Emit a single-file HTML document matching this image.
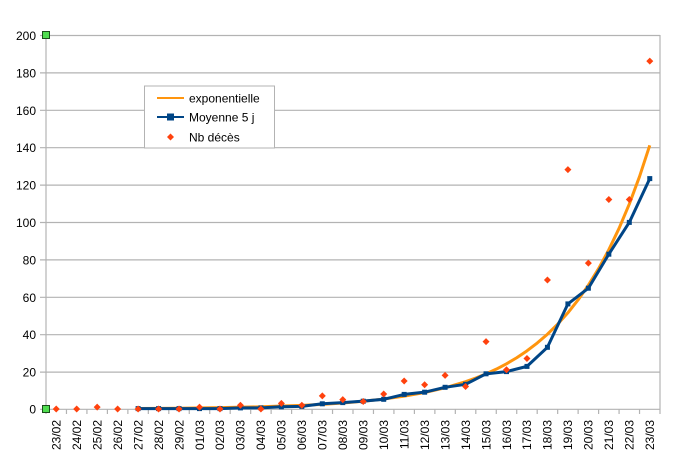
<!DOCTYPE html>
<html><head><meta charset="utf-8"><style>
html,body{margin:0;padding:0;background:#fff;}
svg{display:block;font-family:"Liberation Sans",Arial,sans-serif;}
</style></head><body>
<svg width="679" height="470" viewBox="0 0 679 470" xmlns="http://www.w3.org/2000/svg">
<rect width="679" height="470" fill="#fff"/>
<!-- gridlines -->
<g stroke="#b3b3b3" stroke-width="1.2">
<line x1="40" y1="35.5" x2="660" y2="35.5"/>
<line x1="40" y1="72.9" x2="660" y2="72.9"/>
<line x1="40" y1="110.3" x2="660" y2="110.3"/>
<line x1="40" y1="147.7" x2="660" y2="147.7"/>
<line x1="40" y1="185.1" x2="660" y2="185.1"/>
<line x1="40" y1="222.5" x2="660" y2="222.5"/>
<line x1="40" y1="259.9" x2="660" y2="259.9"/>
<line x1="40" y1="297.3" x2="660" y2="297.3"/>
<line x1="40" y1="334.7" x2="660" y2="334.7"/>
<line x1="40" y1="372.1" x2="660" y2="372.1"/>
<line x1="40" y1="409.3" x2="660" y2="409.3"/>
<line x1="46" y1="35" x2="46" y2="414"/>
<line x1="660" y1="35" x2="660" y2="414"/>
</g>
<!-- x ticks -->
<g stroke="#b3b3b3" stroke-width="1.2">
<line x1="66.47" y1="409" x2="66.47" y2="414"/><line x1="86.93" y1="409" x2="86.93" y2="414"/><line x1="107.4" y1="409" x2="107.4" y2="414"/><line x1="127.87" y1="409" x2="127.87" y2="414"/><line x1="148.33" y1="409" x2="148.33" y2="414"/><line x1="168.8" y1="409" x2="168.8" y2="414"/><line x1="189.27" y1="409" x2="189.27" y2="414"/><line x1="209.73" y1="409" x2="209.73" y2="414"/><line x1="230.2" y1="409" x2="230.2" y2="414"/><line x1="250.67" y1="409" x2="250.67" y2="414"/><line x1="271.13" y1="409" x2="271.13" y2="414"/><line x1="291.6" y1="409" x2="291.6" y2="414"/><line x1="312.07" y1="409" x2="312.07" y2="414"/><line x1="332.53" y1="409" x2="332.53" y2="414"/><line x1="353" y1="409" x2="353" y2="414"/><line x1="373.47" y1="409" x2="373.47" y2="414"/><line x1="393.93" y1="409" x2="393.93" y2="414"/><line x1="414.4" y1="409" x2="414.4" y2="414"/><line x1="434.87" y1="409" x2="434.87" y2="414"/><line x1="455.33" y1="409" x2="455.33" y2="414"/><line x1="475.8" y1="409" x2="475.8" y2="414"/><line x1="496.27" y1="409" x2="496.27" y2="414"/><line x1="516.73" y1="409" x2="516.73" y2="414"/><line x1="537.2" y1="409" x2="537.2" y2="414"/><line x1="557.67" y1="409" x2="557.67" y2="414"/><line x1="578.13" y1="409" x2="578.13" y2="414"/><line x1="598.6" y1="409" x2="598.6" y2="414"/><line x1="619.07" y1="409" x2="619.07" y2="414"/><line x1="639.53" y1="409" x2="639.53" y2="414"/>
</g>
<!-- y labels -->
<g font-size="12" fill="#000" text-anchor="end">
<text x="36" y="40">200</text>
<text x="36" y="77.4">180</text>
<text x="36" y="114.8">160</text>
<text x="36" y="152.2">140</text>
<text x="36" y="189.6">120</text>
<text x="36" y="227">100</text>
<text x="36" y="264.4">80</text>
<text x="36" y="301.8">60</text>
<text x="36" y="339.2">40</text>
<text x="36" y="376.6">20</text>
<text x="36" y="413.5">0</text>
</g>
<!-- x labels -->
<g font-size="12" fill="#000" text-anchor="end">
<text transform="translate(60.5,420) rotate(-90)">23/02</text>
<text transform="translate(81,420) rotate(-90)">24/02</text>
<text transform="translate(101.4,420) rotate(-90)">25/02</text>
<text transform="translate(121.9,420) rotate(-90)">26/02</text>
<text transform="translate(142.4,420) rotate(-90)">27/02</text>
<text transform="translate(162.8,420) rotate(-90)">28/02</text>
<text transform="translate(183.3,420) rotate(-90)">29/02</text>
<text transform="translate(203.8,420) rotate(-90)">01/03</text>
<text transform="translate(224.2,420) rotate(-90)">02/03</text>
<text transform="translate(244.7,420) rotate(-90)">03/03</text>
<text transform="translate(265.2,420) rotate(-90)">04/03</text>
<text transform="translate(285.6,420) rotate(-90)">05/03</text>
<text transform="translate(306.1,420) rotate(-90)">06/03</text>
<text transform="translate(326.6,420) rotate(-90)">07/03</text>
<text transform="translate(347,420) rotate(-90)">08/03</text>
<text transform="translate(367.5,420) rotate(-90)">09/03</text>
<text transform="translate(388,420) rotate(-90)">10/03</text>
<text transform="translate(408.4,420) rotate(-90)">11/03</text>
<text transform="translate(428.9,420) rotate(-90)">12/03</text>
<text transform="translate(449.4,420) rotate(-90)">13/03</text>
<text transform="translate(469.8,420) rotate(-90)">14/03</text>
<text transform="translate(490.3,420) rotate(-90)">15/03</text>
<text transform="translate(510.8,420) rotate(-90)">16/03</text>
<text transform="translate(531.2,420) rotate(-90)">17/03</text>
<text transform="translate(551.7,420) rotate(-90)">18/03</text>
<text transform="translate(572.2,420) rotate(-90)">19/03</text>
<text transform="translate(592.6,420) rotate(-90)">20/03</text>
<text transform="translate(613.1,420) rotate(-90)">21/03</text>
<text transform="translate(633.6,420) rotate(-90)">22/03</text>
<text transform="translate(654,420) rotate(-90)">23/03</text>
</g>
<!-- exponential trend -->
<polyline fill="none" stroke="#ff950e" stroke-width="3" stroke-linejoin="round" points="138.1,408.52 179.03,408.2 219.97,407.67 260.9,406.8 301.83,405.36 322.3,404.32 342.77,402.98 363.23,401.26 383.7,399.04 404.17,396.19 424.63,392.51 445.1,387.78 465.57,381.7 475.8,378.03 486.03,373.88 496.27,369.17 506.5,363.82 516.73,357.74 526.97,350.86 537.2,343.05 547.43,334.2 557.67,324.16 567.9,312.77 578.13,299.85 588.37,285.19 598.6,268.56 608.83,249.71 619.07,228.32 629.3,204.05 639.53,176.56 649.77,145.33"/>
<!-- moving average -->
<polyline fill="none" stroke="#004586" stroke-width="3" stroke-linejoin="round" points="138.1,408.63 158.57,408.63 179.03,408.63 199.5,408.63 219.97,408.63 240.43,407.88 260.9,407.88 281.37,406.76 301.83,406.38 322.3,403.76 342.77,402.64 363.23,401.15 383.7,399.28 404.17,394.41 424.63,392.17 445.1,387.31 465.57,384.32 486.03,373.84 506.5,371.6 526.97,366.36 547.43,347.29 567.9,303.91 588.37,288.2 608.83,254.16 629.3,222.37 649.77,178.62"/>
<g fill="#004586">
<rect x="135.6" y="406.1" width="5" height="5"/><rect x="156.07" y="406.1" width="5" height="5"/><rect x="176.53" y="406.1" width="5" height="5"/><rect x="197" y="406.1" width="5" height="5"/><rect x="217.47" y="406.1" width="5" height="5"/><rect x="237.93" y="405.4" width="5" height="5"/><rect x="258.4" y="405.4" width="5" height="5"/><rect x="278.87" y="404.3" width="5" height="5"/><rect x="299.33" y="403.9" width="5" height="5"/><rect x="319.8" y="401.3" width="5" height="5"/><rect x="340.27" y="400.1" width="5" height="5"/><rect x="360.73" y="398.7" width="5" height="5"/><rect x="381.2" y="396.8" width="5" height="5"/><rect x="401.67" y="391.9" width="5" height="5"/><rect x="422.13" y="389.7" width="5" height="5"/><rect x="442.6" y="384.8" width="5" height="5"/><rect x="463.07" y="381.8" width="5" height="5"/><rect x="483.53" y="371.3" width="5" height="5"/><rect x="504" y="369.1" width="5" height="5"/><rect x="524.47" y="363.9" width="5" height="5"/><rect x="544.93" y="344.8" width="5" height="5"/><rect x="565.4" y="301.4" width="5" height="5"/><rect x="585.87" y="285.7" width="5" height="5"/><rect x="606.33" y="251.7" width="5" height="5"/><rect x="626.8" y="219.9" width="5" height="5"/><rect x="647.27" y="176.1" width="5" height="5"/>
</g>
<!-- deaths diamonds -->
<g fill="#ff420e">
<path d="M56.23,405.5 l3.5,3.5 l-3.5,3.5 l-3.5,-3.5z"/>
<path d="M76.7,405.5 l3.5,3.5 l-3.5,3.5 l-3.5,-3.5z"/>
<path d="M97.17,403.63 l3.5,3.5 l-3.5,3.5 l-3.5,-3.5z"/>
<path d="M117.63,405.5 l3.5,3.5 l-3.5,3.5 l-3.5,-3.5z"/>
<path d="M138.1,405.5 l3.5,3.5 l-3.5,3.5 l-3.5,-3.5z"/>
<path d="M158.57,405.5 l3.5,3.5 l-3.5,3.5 l-3.5,-3.5z"/>
<path d="M179.03,405.5 l3.5,3.5 l-3.5,3.5 l-3.5,-3.5z"/>
<path d="M199.5,403.63 l3.5,3.5 l-3.5,3.5 l-3.5,-3.5z"/>
<path d="M219.97,405.5 l3.5,3.5 l-3.5,3.5 l-3.5,-3.5z"/>
<path d="M240.43,401.76 l3.5,3.5 l-3.5,3.5 l-3.5,-3.5z"/>
<path d="M260.9,405.5 l3.5,3.5 l-3.5,3.5 l-3.5,-3.5z"/>
<path d="M281.37,399.89 l3.5,3.5 l-3.5,3.5 l-3.5,-3.5z"/>
<path d="M301.83,401.76 l3.5,3.5 l-3.5,3.5 l-3.5,-3.5z"/>
<path d="M322.3,392.41 l3.5,3.5 l-3.5,3.5 l-3.5,-3.5z"/>
<path d="M342.77,396.15 l3.5,3.5 l-3.5,3.5 l-3.5,-3.5z"/>
<path d="M363.23,398.02 l3.5,3.5 l-3.5,3.5 l-3.5,-3.5z"/>
<path d="M383.7,390.54 l3.5,3.5 l-3.5,3.5 l-3.5,-3.5z"/>
<path d="M404.17,377.45 l3.5,3.5 l-3.5,3.5 l-3.5,-3.5z"/>
<path d="M424.63,381.19 l3.5,3.5 l-3.5,3.5 l-3.5,-3.5z"/>
<path d="M445.1,371.84 l3.5,3.5 l-3.5,3.5 l-3.5,-3.5z"/>
<path d="M465.57,383.06 l3.5,3.5 l-3.5,3.5 l-3.5,-3.5z"/>
<path d="M486.03,338.18 l3.5,3.5 l-3.5,3.5 l-3.5,-3.5z"/>
<path d="M506.5,366.23 l3.5,3.5 l-3.5,3.5 l-3.5,-3.5z"/>
<path d="M526.97,355.01 l3.5,3.5 l-3.5,3.5 l-3.5,-3.5z"/>
<path d="M547.43,276.47 l3.5,3.5 l-3.5,3.5 l-3.5,-3.5z"/>
<path d="M567.9,166.14 l3.5,3.5 l-3.5,3.5 l-3.5,-3.5z"/>
<path d="M588.37,259.64 l3.5,3.5 l-3.5,3.5 l-3.5,-3.5z"/>
<path d="M608.83,196.06 l3.5,3.5 l-3.5,3.5 l-3.5,-3.5z"/>
<path d="M629.3,196.06 l3.5,3.5 l-3.5,3.5 l-3.5,-3.5z"/>
<path d="M649.77,57.68 l3.5,3.5 l-3.5,3.5 l-3.5,-3.5z"/>
</g>
<!-- green handles -->
<rect x="42.5" y="31.5" width="7" height="7" fill="#4fdd4f" stroke="#1a4d1a" stroke-width="1"/>
<rect x="42.5" y="405.5" width="7" height="7" fill="#4fdd4f" stroke="#1a4d1a" stroke-width="1"/>
<!-- legend -->
<rect x="144.5" y="86" width="130" height="62" fill="#fff" stroke="#b3b3b3" stroke-width="1"/>
<line x1="157" y1="98" x2="184" y2="98" stroke="#ff950e" stroke-width="2"/>
<line x1="157" y1="117" x2="184" y2="117" stroke="#004586" stroke-width="2"/>
<rect x="167" y="113.5" width="7" height="7" fill="#004586"/>
<path d="M170.5,133.5 l3.5,3.5 l-3.5,3.5 l-3.5,-3.5z" fill="#ff420e"/>
<g font-size="12" fill="#000">
<text x="189" y="102.5">exponentielle</text>
<text x="189" y="121.5">Moyenne 5 j</text>
<text x="189" y="141.5">Nb décès</text>
</g>
</svg>
</body></html>
